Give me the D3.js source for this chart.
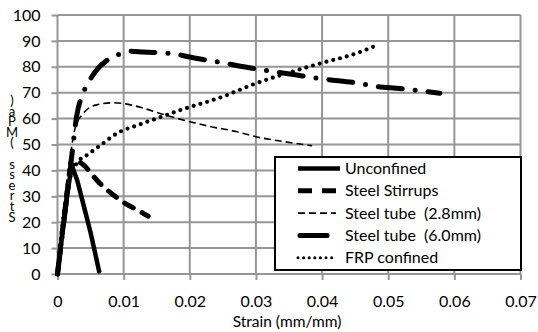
<!DOCTYPE html>
<html><head><meta charset="utf-8">
<script src="https://cdn.jsdelivr.net/npm/d3@7"></script>
<style>body{margin:0;background:#fff}svg{display:block}text{font-family:Lato,"Open Sans",sans-serif;fill:#000}</style>
</head><body><svg id="c" width="538" height="332"></svg>
<script>
const xTicks=[0,0.01,0.02,0.03,0.04,0.05,0.06,0.07];
const xTickLabels=["0","0.01","0.02","0.03","0.04","0.05","0.06","0.07"];
const yTicks=[0,10,20,30,40,50,60,70,80,90,100];
const seriesNames=["Unconfined","Steel Stirrups","Steel tube  (2.8mm)","Steel tube  (6.0mm)","FRP confined"];
const unconfinedStrain=[0,0.0005,0.001,0.0015,0.00215,0.003,0.004,0.005,0.0063];
const unconfinedStress=[0,10.5,21,31,42,36,26,16,1];
const stirrupsStrain=[0,0.001,0.002,0.0028,0.0034,0.0064,0.0095,0.0129,0.0137];
const stirrupsStress=[0,22,40,43.5,43,35,28.5,23.5,22.3];
const tube28Strain=[0,0.0005,0.001,0.0015,0.002,0.0027,0.0039,0.0059,0.0084,0.0105,0.013,0.0155,0.0185,0.023,0.027,0.030,0.034,0.0385];
const tube28Stress=[0,14,27,38,47,56.6,62,65.3,66.1,65.6,64,62,59.8,57,55,53,51.2,49.5];
const tube60Strain=[0,0.001,0.002,0.0029,0.0039,0.0048,0.006,0.0075,0.009,0.011,0.013,0.017,0.0205,0.0246,0.0286,0.0321,0.0362,0.0402,0.0457,0.048,0.0518,0.056,0.0578];
const tube60Stress=[0,21,42,61,70,74.5,79,82.5,84.5,86,85.7,85.2,83.5,81.7,79.8,78.4,76.8,75.3,73.6,72.5,71.6,70.4,69.8];
const frpStrain=[0,0.0005,0.001,0.0015,0.002,0.003,0.0045,0.0064,0.009,0.0125,0.0165,0.0186,0.025,0.030,0.0347,0.0397,0.0452,0.048];
const frpStress=[0,13,24,32,38,43,46,49.5,54.3,57.8,61.4,63.3,68.5,73.6,77.5,81.3,85.2,88];
const yTitleText="Stress (MPa)";

const svg=d3.select("#c");
const x=d3.scaleLinear().domain([0,0.07]).range([57.5,520.5]);
const y=d3.scaleLinear().domain([0,100]).range([274,15]);
const grid="#969696";
svg.append("g").selectAll("line").data(yTicks).join("line")
 .attr("x1",x(0)).attr("x2",x(0.07)).attr("y1",d=>y(d)).attr("y2",d=>y(d))
 .attr("stroke",grid).attr("stroke-width",2);
svg.append("g").selectAll("line").data(xTicks).join("line")
 .attr("x1",d=>x(d)).attr("x2",d=>x(d)).attr("y1",y(0)).attr("y2",y(100))
 .attr("stroke",grid).attr("stroke-width",2);
const yAxis=d3.axisLeft(y).tickValues(yTicks).tickSize(6).tickPadding(11);
const gy=svg.append("g").attr("transform",`translate(${x(0)},0)`).call(yAxis);
gy.select(".domain").remove();
gy.selectAll("line").attr("stroke",grid).attr("stroke-width",2);
gy.selectAll("text").style("font-size","16px").attr("fill","#000");
const xAxis=d3.axisBottom(x).tickValues(xTicks).tickFormat((d,i)=>xTickLabels[i]).tickSize(6).tickPadding(16);
const gx=svg.append("g").attr("transform",`translate(0,${y(0)})`).call(xAxis);
gx.select(".domain").remove();
gx.selectAll("line").attr("stroke",grid).attr("stroke-width",2);
gx.selectAll("text").style("font-size","16px").attr("fill","#000");

function pts(xs,ys){return xs.map((v,i)=>[v,ys[i]]);}
const line=d3.line().x(d=>x(d[0])).y(d=>y(d[1])).curve(d3.curveMonotoneX);
const lineLin=d3.line().x(d=>x(d[0])).y(d=>y(d[1]));
const styles=[
 {w:4.5,dash:null,cap:"round"},
 {w:5,dash:"10 10",cap:"round"},
 {w:1.6,dash:"7 4",cap:"butt"},
 {w:5,dash:"24 13 0 13",cap:"round"},
 {w:4.2,dash:"0 7",cap:"round"}
];
const data=[pts(frpStrain,frpStress),pts(tube28Strain,tube28Stress),pts(stirrupsStrain,stirrupsStress),pts(tube60Strain,tube60Stress),pts(unconfinedStrain,unconfinedStress)];
const order=[4,2,1,3,0];
data.forEach((d,k)=>{
 const s=styles[order[k]];
 svg.append("path").attr("d",(order[k]===0?lineLin:line)(d)).attr("fill","none").attr("stroke","#000")
  .attr("stroke-width",s.w).attr("stroke-dasharray",s.dash).attr("stroke-linecap",s.cap).attr("stroke-linejoin","round");
});
const lg=svg.append("g");
lg.append("rect").attr("x",275).attr("y",157).attr("width",246).attr("height",113).attr("fill","#fff").attr("stroke","#000").attr("stroke-width",2);
const legendEnds=[340,340,336,327,337];
const legStyles=[
 {w:4.5,dash:null,cap:"butt"},
 {w:5,dash:"14 10",cap:"butt"},
 {w:1.6,dash:"7 4",cap:"butt"},
 {w:5,dash:null,cap:"round"},
 {w:3,dash:"0 5.6",cap:"round"}
];
seriesNames.forEach((n,i)=>{
 const cy=168.5+i*22.3;
 const s=legStyles[i];
 lg.append("line").attr("x1",i===3?300:298).attr("x2",legendEnds[i]).attr("y1",cy).attr("y2",cy)
  .attr("stroke","#000").attr("stroke-width",s.w).attr("stroke-dasharray",s.dash).attr("stroke-linecap",s.cap);
 lg.append("text").attr("x",345).attr("y",cy+5.5).style("font-size","16px").attr("xml:space","preserve").text(n);
});
svg.append("text").attr("x",287).attr("y",327).attr("text-anchor","middle").style("font-size","15.5px").text("Strain (mm/mm)");
svg.append("text").attr("x",12).attr("y",92)
 .style("writing-mode","vertical-rl").style("text-orientation","upright")
 .style("font-size","13px").style("letter-spacing","-5.4px").attr("xml:space","preserve")
 .text(yTitleText.split("").reverse().join(""));
</script></body></html>
